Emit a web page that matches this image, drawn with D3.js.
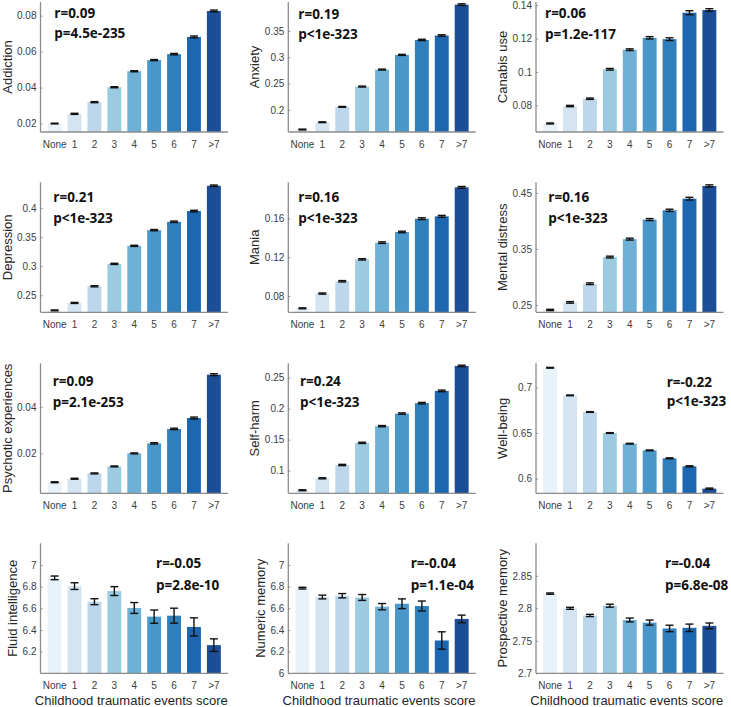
<!DOCTYPE html>
<html>
<head>
<meta charset="utf-8">
<script src="https://cdn.jsdelivr.net/npm/d3@7"></script>
<style>
  html, body { margin: 0; padding: 0; background: #fff; }
  svg { display: block; }
</style>
</head>
<body>
<svg id="chart" width="731" height="707"></svg>
<script>
// ---------------- DATA ----------------
const categories = ["None", "1", "2", "3", "4", "5", "6", "7", ">7"];
const measureNames = ["Addiction", "Anxiety", "Canabis use", "Depression", "Mania", "Mental distress",
  "Psychotic experiences", "Self-harm", "Well-being", "Fluid intelligence", "Numeric memory", "Prospective memory"];

const addictionMean = [0.0200, 0.0254, 0.0319, 0.0402, 0.0491, 0.0553, 0.0586, 0.0682, 0.0826];
const addictionErr  = [0.0002, 0.0003, 0.0003, 0.0003, 0.0003, 0.0003, 0.0004, 0.0005, 0.0005];
const anxietyMean = [0.1627, 0.1766, 0.2057, 0.2443, 0.2766, 0.3045, 0.3330, 0.3413, 0.4000];
const anxietyErr  = [0.0008, 0.0008, 0.0008, 0.0009, 0.0009, 0.0010, 0.0012, 0.0014, 0.0015];
const canabisMean = [0.0692, 0.0796, 0.0840, 0.1016, 0.1133, 0.1204, 0.1196, 0.1354, 0.1370];
const canabisErr  = [0.0003, 0.0004, 0.0004, 0.0005, 0.0005, 0.0007, 0.0008, 0.0012, 0.0008];
const depressionMean = [0.2240, 0.2368, 0.2655, 0.3040, 0.3350, 0.3620, 0.3764, 0.3948, 0.4384];
const depressionErr  = [0.0008, 0.0009, 0.0010, 0.0010, 0.0010, 0.0011, 0.0012, 0.0014, 0.0012];
const maniaMean = [0.0673, 0.0825, 0.0952, 0.1178, 0.1350, 0.1460, 0.1597, 0.1621, 0.1920];
const maniaErr  = [0.0005, 0.0006, 0.0007, 0.0007, 0.0008, 0.0008, 0.0009, 0.0010, 0.0009];
const distressMean = [0.2411, 0.2547, 0.2880, 0.3356, 0.3676, 0.4025, 0.4190, 0.4398, 0.4624];
const distressErr  = [0.0012, 0.0014, 0.0015, 0.0016, 0.0017, 0.0018, 0.0020, 0.0024, 0.0020];
const psychoticMean = [0.0076, 0.0091, 0.0114, 0.0144, 0.0200, 0.0243, 0.0305, 0.0352, 0.0538];
const psychoticErr  = [0.0002, 0.0002, 0.0002, 0.0002, 0.0002, 0.0003, 0.0003, 0.0004, 0.0004];
const selfHarmMean = [0.0684, 0.0877, 0.1092, 0.1449, 0.1718, 0.1921, 0.2089, 0.2287, 0.2690];
const selfHarmErr  = [0.0008, 0.0009, 0.0010, 0.0010, 0.0010, 0.0011, 0.0012, 0.0013, 0.0012];
const wellBeingMean = [0.7214, 0.6912, 0.6730, 0.6500, 0.6383, 0.6310, 0.6223, 0.6135, 0.5891];
const wellBeingErr  = [0.0004, 0.0004, 0.0004, 0.0004, 0.0004, 0.0004, 0.0005, 0.0006, 0.0006];
const fluidMean = [6.881, 6.805, 6.661, 6.759, 6.603, 6.523, 6.532, 6.428, 6.260];
const fluidErr  = [0.017, 0.031, 0.0275, 0.041, 0.050, 0.061, 0.069, 0.084, 0.058];
const numericMean = [6.786, 6.704, 6.716, 6.700, 6.615, 6.642, 6.621, 6.303, 6.502];
const numericErr  = [0.008, 0.017, 0.020, 0.027, 0.029, 0.045, 0.046, 0.080, 0.035];
const prospectiveMean = [2.8226, 2.800, 2.789, 2.804, 2.782, 2.778, 2.769, 2.770, 2.773];
const prospectiveErr  = [0.0010, 0.0015, 0.0017, 0.0023, 0.0030, 0.0039, 0.0050, 0.0057, 0.0044];

const rTexts = ["r=0.09", "r=0.19", "r=0.06", "r=0.21", "r=0.16", "r=0.16", "r=0.09", "r=0.24", "r=-0.22", "r=-0.05", "r=-0.04", "r=-0.04"];
const pTexts = ["p=4.5e-235", "p<1e-323", "p=1.2e-117", "p<1e-323", "p<1e-323", "p<1e-323", "p=2.1e-253", "p<1e-323", "p<1e-323", "p=2.8e-10", "p=1.1e-04", "p=6.8e-08"];

const yDomains = [[0.0153, 0.0876], [0.158, 0.405], [0.0641, 0.1418], [0.2207, 0.4443], [0.0632, 0.1972], [0.237, 0.469],
  [0.00285, 0.0587], [0.0635, 0.2732], [0.584, 0.7263], [6, 7.2], [6, 7.2], [2.7, 2.9]];
const yTickLabels = [["0.02", "0.04", "0.06", "0.08"], ["0.2", "0.25", "0.3", "0.35"], ["0.08", "0.1", "0.12", "0.14"],
  ["0.25", "0.3", "0.35", "0.4"], ["0.08", "0.12", "0.16"], ["0.25", "0.35", "0.45"],
  ["0.02", "0.04"], ["0.1", "0.15", "0.2", "0.25"], ["0.6", "0.65", "0.7"],
  ["6.2", "6.4", "6.6", "6.8", "7"], ["6", "6.2", "6.4", "6.6", "6.8", "7"], ["2.7", "2.75", "2.8", "2.85"]];
const xAxisTitle = "Childhood traumatic events score";

const means = [addictionMean, anxietyMean, canabisMean, depressionMean, maniaMean, distressMean,
  psychoticMean, selfHarmMean, wellBeingMean, fluidMean, numericMean, prospectiveMean];
const errs = [addictionErr, anxietyErr, canabisErr, depressionErr, maniaErr, distressErr,
  psychoticErr, selfHarmErr, wellBeingErr, fluidErr, numericErr, prospectiveErr];

// ---------------- STYLE / LAYOUT ----------------
const barColors = ["#e8f2f9", "#d3e5f3", "#bcd7eb", "#9ccae1", "#6eb0d6", "#4a98c9", "#2f7fbc", "#1d66b0", "#1c4e97"];
const colLefts = [40.5, 288.3, 536];
const plotW = 187.5;
const rowTops = [2, 182.3, 363.3, 543.3];
const plotH = 130;
// stats text anchor (x from plot left, baselines from plot top)
const statPos = [[13.8, 16.3, 36.3], [10, 16.7, 36.7], [9, 16.3, 37], [12.8, 20, 41], [10, 20, 41], [12.3, 20, 41],
  [12.2, 22.7, 43.4], [11.7, 22.7, 43.4], [130.7, 23.4, 42.7], [115.5, 25, 46.7], [122.4, 25, 46.7], [129, 25, 46.7]];

const svg = d3.select("#chart");
const axisColor = "#8c8c8c";
const tickFont = "'Liberation Sans', Arial, sans-serif";

measureNames.forEach((name, k) => {
  const col = k % 3, row = Math.floor(k / 3);
  const g = svg.append("g").attr("transform", `translate(${colLefts[col]},${rowTops[row]})`);
  const x = d3.scaleBand().domain(categories).range([0, plotW]).paddingInner(0.3).paddingOuter(0.36);
  const y = d3.scaleLinear().domain(yDomains[k]).range([plotH, 0]);
  const data = categories.map((c, i) => ({ c, m: means[k][i], e: errs[k][i], color: barColors[i] }));

  // bars
  g.selectAll("rect.bar").data(data).enter().append("rect")
    .attr("class", "bar")
    .attr("x", d => x(d.c))
    .attr("width", x.bandwidth())
    .attr("y", d => y(d.m))
    .attr("height", d => plotH - y(d.m))
    .attr("fill", d => d.color);

  // error bars
  const cap = 4;
  const eb = g.selectAll("g.eb").data(data).enter().append("g").attr("class", "eb")
    .attr("stroke", "#111").attr("stroke-width", 1.4);
  eb.append("line").attr("x1", d => x(d.c) + x.bandwidth() / 2).attr("x2", d => x(d.c) + x.bandwidth() / 2)
    .attr("y1", d => y(d.m - d.e)).attr("y2", d => y(d.m + d.e));
  eb.append("line").attr("x1", d => x(d.c) + x.bandwidth() / 2 - cap).attr("x2", d => x(d.c) + x.bandwidth() / 2 + cap)
    .attr("y1", d => y(d.m - d.e)).attr("y2", d => y(d.m - d.e));
  eb.append("line").attr("x1", d => x(d.c) + x.bandwidth() / 2 - cap).attr("x2", d => x(d.c) + x.bandwidth() / 2 + cap)
    .attr("y1", d => y(d.m + d.e)).attr("y2", d => y(d.m + d.e));

  // y axis
  const tickVals = yTickLabels[k].map(Number);
  const yAxis = d3.axisLeft(y).tickValues(tickVals).tickFormat((d, i) => yTickLabels[k][i]).tickSize(-2).tickPadding(4);
  const ya = g.append("g").call(yAxis);
  ya.select(".domain").attr("stroke", axisColor).attr("stroke-width", 1.3).attr("d", `M0,0V${plotH}`);
  ya.selectAll(".tick line").attr("stroke", axisColor);
  ya.selectAll(".tick text").attr("font-family", tickFont).attr("font-size", 10).attr("fill", "#3c3c3c");

  // x axis
  const xAxis = d3.axisBottom(x).tickSize(0).tickPadding(9);
  const xa = g.append("g").attr("transform", `translate(0,${plotH})`).call(xAxis);
  xa.select(".domain").attr("stroke", axisColor).attr("stroke-width", 1.3).attr("d", `M0,0H${plotW}`);
  xa.selectAll(".tick text").attr("font-family", tickFont).attr("font-size", 10).attr("fill", "#3c3c3c");

  // y label position from tick label widths
  let maxW = 0;
  ya.selectAll(".tick text").each(function () { maxW = Math.max(maxW, this.getComputedTextLength()); });
  const labelCenter = -14 - maxW;
  g.append("text")
    .attr("transform", `translate(${labelCenter + 4.6},${plotH / 2}) rotate(-90)`)
    .attr("text-anchor", "middle")
    .attr("font-family", tickFont).attr("font-size", 13).attr("fill", "#262626")
    .text(name);

  // stats
  const sp = statPos[k];
  g.append("text").attr("x", sp[0]).attr("y", sp[1])
    .attr("font-family", "'Open Sans', 'Noto Sans', sans-serif").attr("font-weight", "bold").attr("font-size", 13.5)
    .attr("fill", "#111").text(rTexts[k]);
  g.append("text").attr("x", sp[0]).attr("y", sp[2])
    .attr("font-family", "'Open Sans', 'Noto Sans', sans-serif").attr("font-weight", "bold").attr("font-size", 13.5)
    .attr("fill", "#111").text(pTexts[k]);

  if (row === 3) {
    g.append("text").attr("x", plotW / 2 - 3).attr("y", plotH + 31.5)
      .attr("text-anchor", "middle")
      .attr("font-family", tickFont).attr("font-size", 13).attr("fill", "#262626")
      .text(xAxisTitle);
  }
});
</script>
</body>
</html>
